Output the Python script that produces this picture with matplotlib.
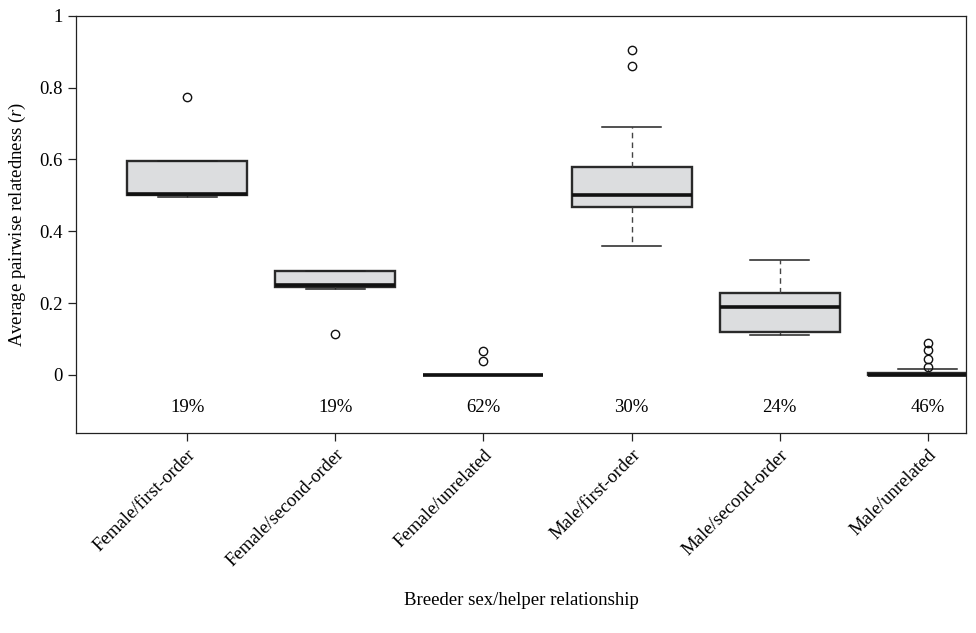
import matplotlib
matplotlib.use('Agg')
import matplotlib.pyplot as plt

plt.rcParams['font.family'] = ['Liberation Serif', 'DejaVu Serif']
plt.rcParams['mathtext.fontset'] = 'custom'
plt.rcParams['mathtext.it'] = 'Liberation Serif:italic'
plt.rcParams['mathtext.rm'] = 'Liberation Serif'

# --- Daten ---
kategorien = ['Female/first-order', 'Female/second-order', 'Female/unrelated',
              'Male/first-order', 'Male/second-order', 'Male/unrelated']
anteile = ['19%', '19%', '62%', '30%', '24%', '46%']
whisker_unten = [0.495, 0.240, 0.0, 0.358, 0.112, 0.0]
q1 = [0.500, 0.245, 0.0, 0.468, 0.120, 0.0]
median = [0.503, 0.250, 0.0, 0.500, 0.190, 0.0]
q3 = [0.595, 0.290, 0.0, 0.578, 0.228, 0.005]
whisker_oben = [0.595, 0.290, 0.0, 0.690, 0.320, 0.015]
ausreisser = [[0.775], [0.115], [0.038, 0.065], [0.860, 0.905], [],
              [0.022, 0.045, 0.068, 0.090]]

stats = []
for i, name in enumerate(kategorien):
    stats.append({'label': name, 'whislo': whisker_unten[i], 'q1': q1[i],
                  'med': median[i], 'q3': q3[i], 'whishi': whisker_oben[i],
                  'fliers': ausreisser[i]})

fig = plt.figure(figsize=(9.76, 6.33), dpi=100)
ax = fig.add_axes([0.078, 0.316, 0.912, 0.659])

positionen = list(range(1, len(kategorien) + 1))
ax.bxp(stats, positions=positionen, widths=0.81, patch_artist=True,
       boxprops=dict(facecolor='#dcdddf', edgecolor='#2a2a2a', linewidth=1.7),
       medianprops=dict(color='#111111', linewidth=2.6),
       whiskerprops=dict(color='#444444', linestyle=(0, (4, 3)), linewidth=1.0),
       capprops=dict(color='#222222', linewidth=1.1),
       capwidths=0.4,
       flierprops=dict(marker='o', markersize=6, markerfacecolor='none',
                       markeredgecolor='#111111', markeredgewidth=1.0))

fs = 13.5
for pos, txt in zip(positionen, anteile):
    ax.text(pos, -0.09, txt, ha='center', va='center', fontsize=fs)

ax.set_xlim(0.25, 6.26)
ax.set_ylim(-0.162, 1.0)
ax.set_yticks([0, 0.2, 0.4, 0.6, 0.8, 1.0])
ax.set_yticklabels(['0', '0.2', '0.4', '0.6', '0.8', '1'], fontsize=fs)
ax.set_xticks(positionen)
ax.set_xticklabels(kategorien, rotation=45, ha='right', rotation_mode='anchor', fontsize=fs)
ax.tick_params(direction='out', length=6, width=0.9, color='#222222')
for s in ax.spines.values():
    s.set_linewidth(0.9)
    s.set_color('#222222')

ax.set_ylabel('Average pairwise relatedness ($\\it{r}$)', fontsize=fs, labelpad=8)
ax.set_xlabel('Breeder sex/helper relationship', fontsize=fs, labelpad=16)

fig.savefig('out.png', dpi=100)
